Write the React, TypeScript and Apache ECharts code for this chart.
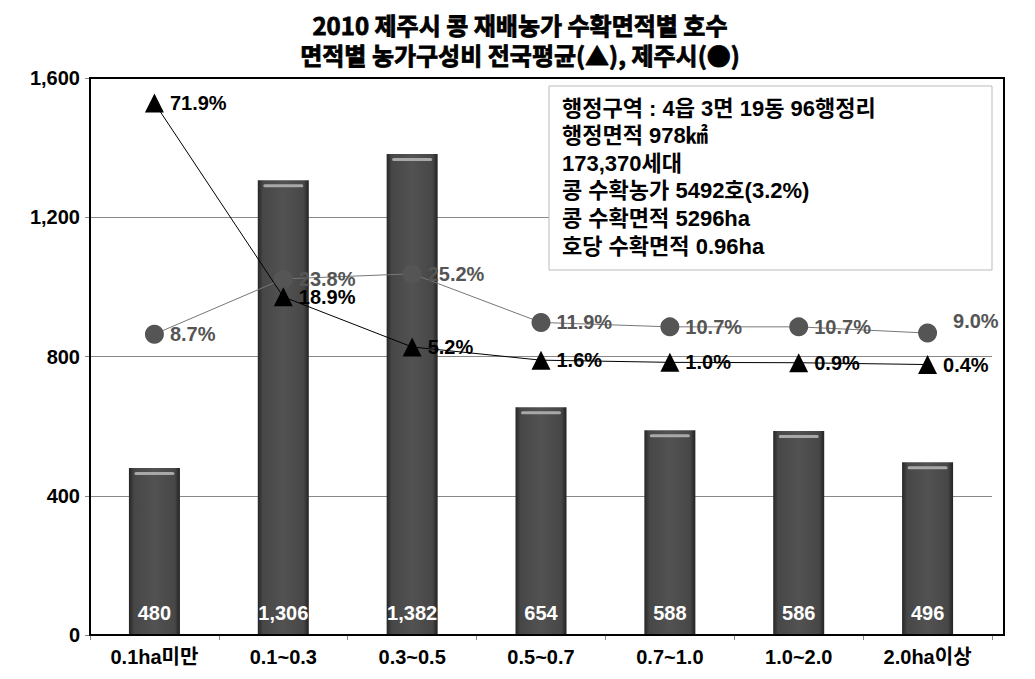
import React, { useEffect, useRef } from "react";
import * as echarts from "echarts";

const categories = ["0.1ha미만", "0.1~0.3", "0.3~0.5", "0.5~0.7", "0.7~1.0", "1.0~2.0", "2.0ha이상"];
const farmCounts = [480, 1306, 1382, 654, 588, 586, 496];
const nationalShare = [71.9, 18.9, 5.2, 1.6, 1.0, 0.9, 0.4];
const jejuShare = [8.7, 23.8, 25.2, 11.9, 10.7, 10.7, 9.0];
const yTicks = [0, 400, 800, 1200, 1600];
const titleLines = ["2010 제주시 콩 재배농가 수확면적별 호수", "면적별 농가구성비 전국평균(▲), 제주시(●)"];
const infoLines = [
  "행정구역 : 4읍 3면 19동 96행정리",
  "행정면적 978㎢",
  "173,370세대",
  "콩 수확농가 5492호(3.2%)",
  "콩 수확면적 5296ha",
  "호당 수확면적 0.96ha",
];

const FONT = "'Liberation Sans', Arial, 'Noto Sans CJK KR', sans-serif";
const KFONT = "'Noto Sans CJK KR', 'Liberation Sans', sans-serif";

export default function App() {
  const ref = useRef<HTMLDivElement>(null);
  useEffect(() => {
    if (!ref.current) return;
    const chart = echarts.init(ref.current, null, { renderer: "svg" });
    const fmt = (v: number) => v.toLocaleString("en-US");
    chart.setOption({
      animation: false,
      backgroundColor: "#ffffff",
      grid: { left: 90, right: 1035 - 992, top: 78, bottom: 679 - 635, containLabel: false },
      xAxis: {
        type: "category",
        data: categories,
        axisLine: { show: true, lineStyle: { color: "#000", width: 2 } },
        axisTick: { show: true, length: 5, lineStyle: { color: "#888" } },
        axisLabel: { color: "#000", fontSize: 20, fontWeight: "bold", fontFamily: FONT, margin: 12 },
      },
      yAxis: [
        {
          type: "value",
          min: yTicks[0],
          max: yTicks[yTicks.length - 1],
          interval: 400,
          axisLine: { show: true, lineStyle: { color: "#000", width: 2 } },
          axisTick: { show: true, length: 5, lineStyle: { color: "#888" } },
          splitLine: { show: true, lineStyle: { color: "#888", width: 1 } },
          axisLabel: {
            color: "#000",
            fontSize: 20,
            fontWeight: "bold",
            fontFamily: FONT,
            margin: 10,
            formatter: (v: number) => fmt(v),
          },
        },
        {
          type: "value",
          min: -73.5,
          max: 78.7,
          show: false,
          splitLine: { show: false },
        },
      ],
      series: [
        {
          type: "bar",
          data: farmCounts,
          barWidth: 51,
          itemStyle: {
            color: new echarts.graphic.LinearGradient(0, 0, 1, 0, [
              { offset: 0, color: "#262626" },
              { offset: 0.1, color: "#474747" },
              { offset: 0.5, color: "#525252" },
              { offset: 0.9, color: "#474747" },
              { offset: 1, color: "#222222" },
            ]),
          },
          label: {
            show: true,
            position: "insideBottom",
            distance: 12,
            color: "#fff",
            fontSize: 20,
            fontWeight: "bold",
            fontFamily: FONT,
            formatter: (p: any) => fmt(p.value),
          },
          z: 2,
        },
        {
          type: "custom",
          data: farmCounts.map((v, i) => [i, v]),
          encode: { x: 0, y: 1 },
          renderItem: (params: any, api: any) => {
            const top = api.coord([api.value(0), api.value(1)]);
            return {
              type: "rect",
              shape: { x: top[0] - 20, y: top[1] + 4, width: 40, height: 3, r: 1.5 },
              style: { fill: "#a8a8a8" },
            };
          },
          z: 5,
          silent: true,
        },
        {
          type: "line",
          yAxisIndex: 1,
          data: jejuShare.map((v, i) =>
            i === jejuShare.length - 1 ? { value: v, label: { offset: [10, -12] } } : v
          ),
          symbol: "circle",
          symbolSize: 19,
          itemStyle: { color: "#555555" },
          lineStyle: { color: "#777777", width: 1 },
          label: {
            show: true,
            position: "right",
            distance: 6,
            color: "#555555",
            fontSize: 20,
            fontWeight: "bold",
            fontFamily: FONT,
            formatter: (p: any) => p.value.toFixed(1) + "%",
          },
          z: 6,
        },
        {
          type: "line",
          yAxisIndex: 1,
          data: nationalShare,
          symbol: "triangle",
          symbolSize: 19,
          itemStyle: { color: "#000000" },
          lineStyle: { color: "#000000", width: 1 },
          label: {
            show: true,
            position: "right",
            distance: 6,
            color: "#000000",
            fontSize: 20,
            fontWeight: "bold",
            fontFamily: FONT,
            formatter: (p: any) => p.value.toFixed(1) + "%",
          },
          z: 7,
        },
      ],
      graphic: [
        {
          type: "rect",
          shape: { x: 90, y: 78, width: 914, height: 557 },
          style: { fill: "none", stroke: "#000", lineWidth: 2 },
          silent: true,
          z: 10,
        },
        {
          type: "rect",
          shape: { x: 549, y: 86, width: 443, height: 184 },
          style: { fill: "#fff", stroke: "#bbbbbb", lineWidth: 1 },
          z: 20,
        },
        ...infoLines.map((t, i) => ({
          type: "text",
          x: 562,
          y: 108 + i * 27.6,
          style: {
            text: t,
            fill: "#000",
            font: `bold 22px ${FONT}`,
            textVerticalAlign: "middle",
          },
          z: 21,
        })),
        ...titleLines.map((t, i) => ({
          type: "text",
          x: 520,
          y: 24 + i * 30,
          style: {
            text: t,
            fill: "#000",
            stroke: "#000",
            lineWidth: 0.8,
            font: `bold 24px ${KFONT}`,
            textAlign: "center",
            textVerticalAlign: "middle",
          },
          z: 21,
        })),
      ],
    });
    return () => chart.dispose();
  }, []);
  return (
    <div
      ref={ref}
      style={{ position: "fixed", left: 0, top: 0, width: 1035, height: 679, background: "#fff" }}
    />
  );
}
